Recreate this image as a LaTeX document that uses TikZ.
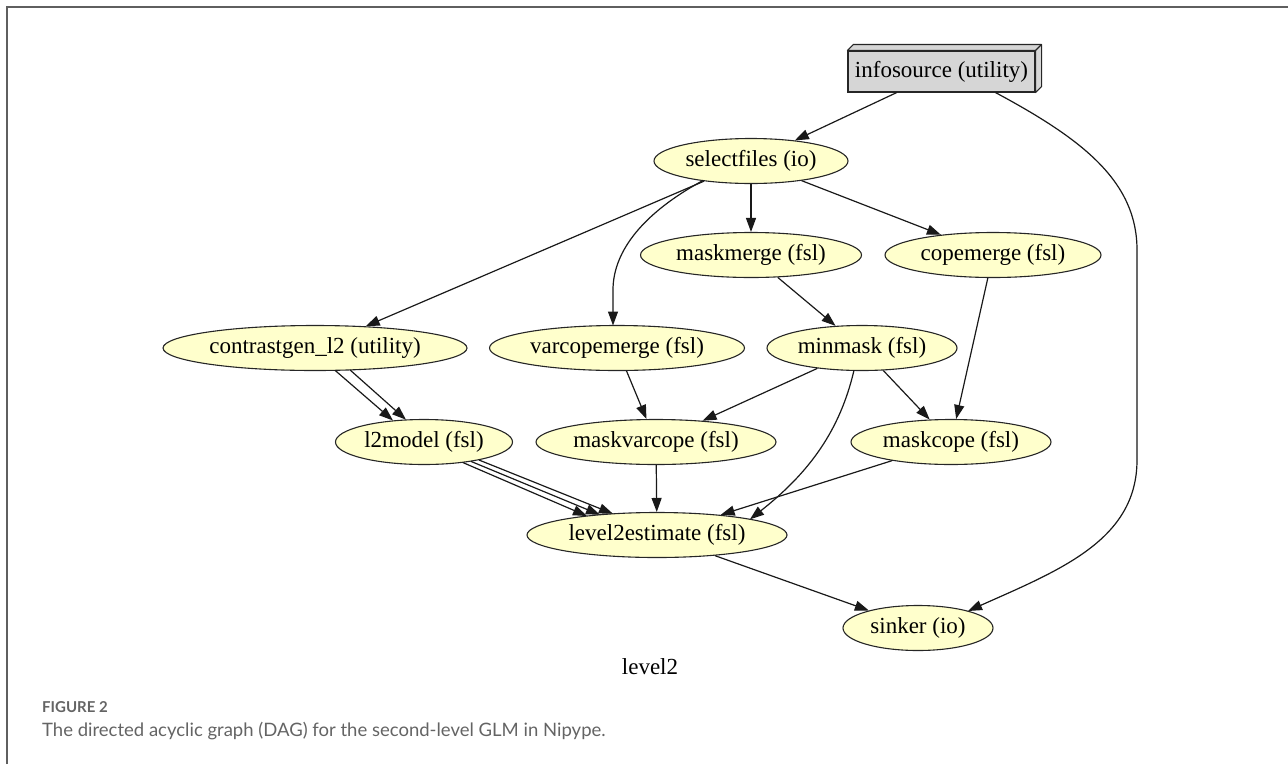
\documentclass[tikz,border=0pt]{standalone}
\usepackage{fontspec}
\setmainfont{Liberation Serif}
\newfontfamily\capfont{Lato}
\usetikzlibrary{arrows.meta,calc,shapes.geometric}
\definecolor{nodefill}{RGB}{255,255,204}
\definecolor{boxfill}{RGB}{214,214,214}
\definecolor{framegray}{RGB}{95,95,95}
\definecolor{capgray}{RGB}{100,100,100}
\begin{document}
\begin{tikzpicture}[x=1pt,y=-1pt,
  every node/.style={font=\fontsize{23}{27}\selectfont},
  gnode/.style={ellipse, draw=black!85, line width=1.1pt, fill=nodefill, inner sep=0pt, minimum height=45pt},
  edge/.style={draw=black!90, line width=1.2pt, -{Triangle[length=14pt,width=10pt]}},
  facebox/.style={draw=black!85, line width=1.1pt, fill=boxfill},
]
\useasboundingbox (0,0) rectangle (1288,764);
% frame
\draw[framegray, line width=2pt] (7,764) -- (7,7) -- (1288,7);

% nodes
\node[facebox, minimum width=187pt, minimum height=41pt, inner sep=0pt] (info) at (941.5,71.5) {infosource (utility)};
\draw[facebox, line join=round] (info.north west) -- ++(6,-6) -- ($(info.north east)+(6,-6)$) -- ($(info.south east)+(6,-6)$) -- (info.south east) -- (info.north east) -- cycle;
\draw[draw=black!85, line width=1.1pt] (info.north east) -- ++(6,-6);

\node[gnode, minimum width=194pt] (sel) at (751,161) {selectfiles (io)};
\node[gnode, minimum width=221pt] (mm) at (751,255) {maskmerge (fsl)};
\node[gnode, minimum width=216pt] (cpm) at (993,255) {copemerge (fsl)};
\node[gnode, minimum width=304pt] (cg) at (315,348) {contrastgen\_l2 (utility)};
\node[gnode, minimum width=255pt] (vcm) at (617,348) {varcopemerge (fsl)};
\node[gnode, minimum width=190pt] (mn) at (862,348) {minmask (fsl)};
\node[gnode, minimum width=177pt] (l2m) at (424,442) {l2model (fsl)};
\node[gnode, minimum width=240pt] (mvc) at (656,442) {maskvarcope (fsl)};
\node[gnode, minimum width=200pt] (mc) at (951,442) {maskcope (fsl)};
\node[gnode, minimum width=260pt] (l2e) at (657,535) {level2estimate (fsl)};
\node[gnode, minimum width=150pt] (sink) at (918,628) {sinker (io)};

\node (lbl) at (650,667) {level2};

% edges
\draw[edge] (info) -- (sel);
\draw[edge] ($(info.south)+(54,0)$) .. controls (1080,138) and (1137,180) .. (1137,250) -- (1137,460) .. controls (1137,540) and (1060,570) .. ($(sink)+(50,-17)$);
\draw[edge] (sel) -- (cg);
\draw[edge] ($(sel)+(-48,19.5)$) .. controls (645,212) and (613,250) .. (613,290) -- ($(vcm)+(-4,-22.5)$);
\draw[edge] (sel) -- (mm);
\draw[edge] (sel) -- (cpm);
\draw[edge] (mm) -- (mn);
\draw[edge] (cpm) -- (mc);
\draw[edge] ($(cg)+(20,22.3)$) -- ($(l2m)+(-31,-21.5)$);
\draw[edge] ($(cg)+(35,21.9)$) -- ($(l2m)+(-18,-22.3)$);
\draw[edge] (vcm) -- (mvc);
\draw[edge] (mn) -- (mvc);
\draw[edge] (mn) -- (mc);
\draw[edge] ($(mn)+(-8,22.3)$) .. controls (840,430) and (810,472) .. ($(l2e)+(93,-15.7)$);
\draw[edge] ($(l2m)+(39,20.6)$) -- ($(l2e)+(-70,-19)$);
\draw[edge] ($(l2m)+(47,19.4)$) -- ($(l2e)+(-57,-20.2)$);
\draw[edge] ($(l2m)+(55,18)$) -- ($(l2e)+(-44,-21.2)$);
\draw[edge] (mvc) -- (l2e);
\draw[edge] (mc) -- (l2e);
\draw[edge] (l2e) -- (sink);

% caption
\node[anchor=west, inner sep=0pt, text=capgray, font=\capfont\bfseries\fontsize{15}{17}\selectfont] (figno) at (42,707) {FIGURE 2};
\node[anchor=west, inner sep=0pt, text=capgray, font=\capfont\fontsize{18.5}{22}\selectfont] (cap) at (42,731) {The directed acyclic graph (DAG) for the second-level GLM in Nipype.};
\end{tikzpicture}
\end{document}
